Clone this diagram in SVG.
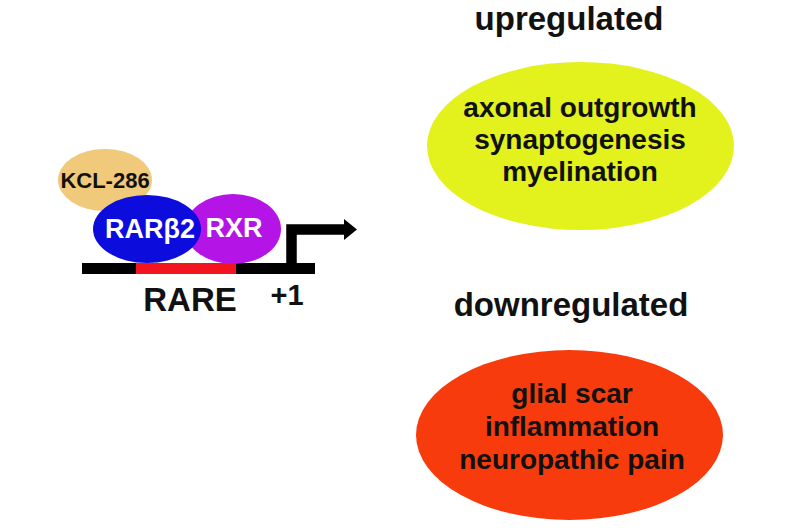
<svg xmlns="http://www.w3.org/2000/svg" width="800" height="530" viewBox="0 0 800 530">
<style>
text{font-family:"Liberation Sans",Arial,sans-serif;font-weight:bold;text-anchor:middle;fill:#111}
.w{fill:#fff}
.h{font-size:33px}
.e{font-size:28px}
</style>
<rect width="800" height="530" fill="#fff"/>
<g id="connectors">
<rect x="82" y="263" width="233" height="11" fill="#000"/>
<rect x="136" y="263" width="100" height="11" fill="#f2151f"/>
<path d="M291.5,268 V229.5 H346" fill="none" stroke="#000" stroke-width="10.5"/>
<path d="M344,219 L357,229.5 L344,240 Z" fill="#000"/>
</g>
<g id="kcl286">
<ellipse cx="105" cy="180" rx="47" ry="31" fill="#f0c97a"/>
<text x="105" y="188" font-size="22">KCL-286</text>
</g>
<g id="rxr">
<ellipse cx="233" cy="229" rx="48" ry="35" fill="#b514e6"/>
<text class="w" x="234" y="237" font-size="27">RXR</text>
</g>
<g id="rarb2">
<ellipse cx="147" cy="229" rx="54" ry="34" fill="#0c0cdc"/>
<text class="w" x="150" y="238" font-size="27">RARβ2</text>
</g>
<g id="rare">
<text x="190" y="311" font-size="33">RARE</text>
</g>
<g id="plus1">
<text x="287" y="305" font-size="29">+1</text>
</g>
<g id="upregulated">
<text class="h" x="569" y="30">upregulated</text>
</g>
<g id="up-ellipse">
<ellipse cx="580.5" cy="146" rx="153.5" ry="84" fill="#e3f11d"/>
<text class="e" x="580" y="117">axonal outgrowth</text>
<text class="e" x="580" y="149">synaptogenesis</text>
<text class="e" x="580" y="181">myelination</text>
</g>
<g id="downregulated">
<text class="h" x="571" y="316">downregulated</text>
</g>
<g id="down-ellipse">
<ellipse cx="569.5" cy="435" rx="153.5" ry="85" fill="#f83b0c"/>
<text class="e" x="572" y="403">glial scar</text>
<text class="e" x="572" y="436">inflammation</text>
<text class="e" x="572" y="469">neuropathic pain</text>
</g>
</svg>
